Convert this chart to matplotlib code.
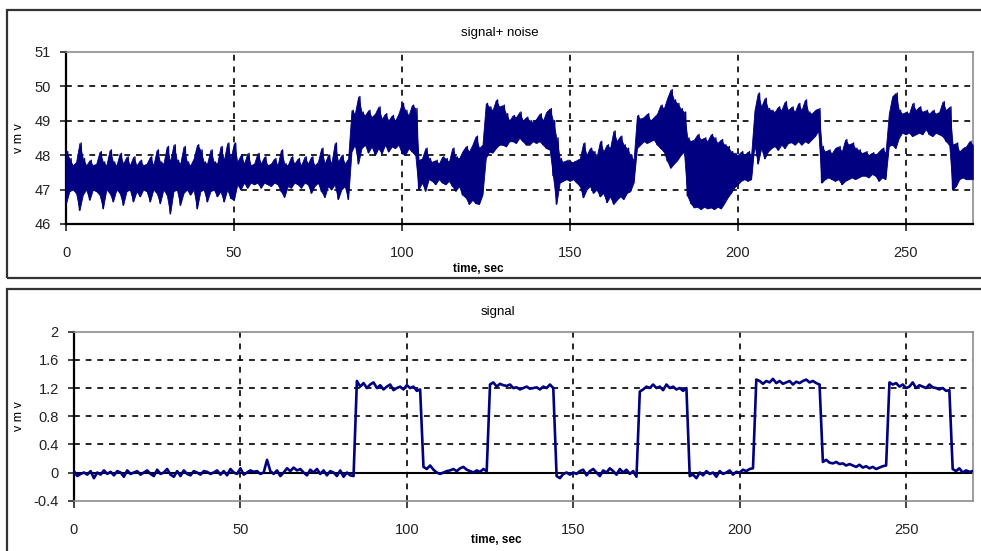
import numpy as np
import matplotlib
matplotlib.use("Agg")
import matplotlib.pyplot as plt
from matplotlib.patches import Rectangle

plt.rcParams['font.family'] = ['Liberation Sans', 'DejaVu Sans']

NAVY = "#000080"

# time axis, one reading per second
time_sec = np.arange(0, 271)

# signal + noise, upper edge of the noise band (one value per second)
noisy_hi = [
    48.1, 47.9, 47.7, 47.8, 48.35, 47.9, 47.7, 47.85, 47.7, 47.75,
    48.1, 47.8, 47.7, 48.15, 47.8, 47.7, 48.05, 47.75, 47.95, 47.7,
    47.95, 47.7, 47.85, 47.7, 47.75, 47.95, 47.7, 48.15, 47.8, 47.75,
    48.25, 47.8, 48.3, 47.85, 47.75, 48.25, 47.8, 47.7, 47.9, 48.3,
    48.15, 47.8, 47.75, 48.15, 47.8, 47.75, 48.25, 47.85, 48.35, 47.9,
    48.35, 47.8, 48.0, 47.75, 48.05, 47.7, 47.75, 48.05, 47.75, 47.95,
    47.7, 47.75, 47.9, 47.7, 48.15, 47.75, 47.7, 47.95, 47.75, 47.9,
    47.7, 47.95, 47.75, 47.95, 47.7, 47.8, 48.2, 47.75, 48.0, 47.75,
    48.35, 47.8, 48.0, 47.75, 47.9, 49.3, 49.2, 49.7, 49.25, 49.15,
    49.3, 49.1, 49.2, 49.4, 49.05, 49.2, 49.0, 49.15, 49.0, 49.2,
    49.5, 49.3, 49.15, 49.45, 49.35, 47.85, 47.9, 48.2, 47.9, 47.8,
    47.85, 47.75, 47.95, 47.9, 47.8, 48.2, 47.95, 47.9, 48.1, 48.25,
    48.1, 48.3, 48.55, 48.2, 48.3, 49.5, 49.4, 49.3, 49.6, 49.4,
    49.45, 49.2, 49.0, 49.15, 49.1, 49.25, 49.0, 49.1, 49.0, 48.95,
    49.05, 49.2, 49.0, 49.25, 49.35, 49.0, 48.5, 47.9, 47.8, 47.85,
    47.8, 47.8, 47.85, 47.9, 48.35, 48.0, 48.2, 48.1, 47.95, 48.4,
    48.1, 48.3, 48.2, 48.7, 48.4, 48.55, 48.3, 48.2, 48.0, 47.85,
    49.15, 49.05, 49.1, 49.2, 49.0, 49.1, 49.2, 49.45, 49.35, 49.65,
    49.9, 49.6, 49.5, 49.35, 49.25, 48.5, 48.4, 48.45, 48.6, 48.45,
    48.5, 48.4, 48.6, 48.5, 48.35, 48.45, 48.3, 48.25, 48.1, 48.05,
    48.0, 48.1, 48.0, 48.1, 48.0, 49.3, 49.8, 49.4, 49.65, 49.35,
    49.3, 49.25, 49.4, 49.3, 49.55, 49.3, 49.4, 49.25, 49.5, 49.3,
    49.6, 49.25, 49.2, 49.3, 49.35, 48.25, 48.1, 48.15, 48.05, 48.2,
    48.25, 48.1, 48.45, 48.3, 48.35, 48.2, 48.15, 48.05, 48.1, 48.0,
    48.07, 48.0, 48.1, 48.2, 48.05, 49.2, 49.7, 49.8, 49.3, 49.2,
    49.25, 49.2, 49.5, 49.3, 49.4, 49.25, 49.3, 49.2, 49.3, 49.2,
    49.25, 49.55, 49.3, 49.4, 48.3, 48.35, 48.1, 48.2, 48.25, 48.4,
    48.3,
]

# signal + noise, lower edge of the noise band
noisy_lo = [
    46.6, 46.95, 47.0, 46.9, 46.4, 46.85, 47.0, 46.7, 47.0, 46.95,
    46.85, 46.45, 47.0, 46.9, 46.65, 47.0, 46.9, 46.55, 46.95, 47.0,
    46.65, 46.95, 46.8, 47.0, 46.95, 46.65, 47.0, 46.9, 46.6, 47.0,
    46.85, 46.3, 46.95, 47.0, 46.55, 46.9, 47.0, 46.85, 47.0, 46.45,
    46.95, 47.0, 46.65, 46.95, 47.0, 46.8, 46.95, 46.65, 47.0, 46.75,
    46.7, 47.15, 47.0, 47.2, 47.05, 47.2, 47.15, 47.2, 47.05, 47.2,
    47.15, 47.1, 47.2, 47.15, 46.95, 46.78, 47.1, 47.05, 47.2, 47.15,
    47.05, 47.2, 47.15, 46.9, 47.1, 47.2, 46.95, 46.78, 47.1, 47.0,
    47.15, 46.72, 47.0, 47.1, 46.72, 48.1, 48.3, 47.75, 48.2, 48.3,
    48.07, 48.25, 48.0, 48.2, 48.05, 48.3, 48.1, 48.25, 48.2, 48.3,
    48.05, 48.0, 48.2, 48.1, 48.0, 47.0, 47.2, 46.96, 47.3, 47.25,
    47.15, 47.3, 47.2, 47.15, 47.25, 47.1, 46.96, 47.1, 46.85, 46.77,
    46.58, 46.7, 46.6, 46.58, 46.85, 47.92, 48.1, 48.07, 48.2, 48.3,
    48.3, 48.25, 48.4, 48.4, 48.35, 48.5, 48.4, 48.3, 48.3, 48.4,
    48.35, 48.4, 48.3, 48.2, 48.16, 47.4, 46.58, 47.2, 47.25, 47.3,
    47.25, 47.3, 47.2, 47.1, 46.77, 47.0, 47.1, 46.9, 47.0, 46.8,
    46.9, 46.63, 46.8, 46.58, 46.7, 46.8, 46.72, 46.9, 46.95, 47.2,
    48.2, 48.3, 48.4, 48.35, 48.4, 48.45, 48.3, 48.2, 48.1, 47.83,
    47.63, 47.75, 47.85, 48.0, 48.1, 46.82, 46.6, 46.48, 46.5, 46.43,
    46.5, 46.45, 46.48, 46.43, 46.5, 46.45, 46.6, 46.77, 46.9, 47.06,
    47.15, 47.25, 47.3, 47.25, 47.3, 48.3, 47.75, 48.2, 47.9, 48.1,
    48.2, 48.26, 48.15, 48.3, 48.2, 48.35, 48.37, 48.3, 48.4, 48.3,
    48.4, 48.35, 48.45, 48.55, 48.7, 47.2, 47.3, 47.35, 47.3, 47.25,
    47.3, 47.15, 47.25, 47.3, 47.35, 47.3, 47.35, 47.4, 47.4, 47.35,
    47.45, 47.4, 47.25, 47.35, 47.3, 48.26, 48.3, 48.2, 48.5, 48.65,
    48.6, 48.65, 48.55, 48.6, 48.65, 48.6, 48.75, 48.6, 48.55, 48.65,
    48.6, 48.55, 48.4, 48.3, 47.0, 47.1, 47.3, 47.35, 47.3, 47.3,
    47.3,
]

# clean signal, one value per second
signal = [
    0.02, -0.05, -0.02, 0.0, -0.03, 0.02, -0.08, 0.0, -0.03, 0.03,
    -0.02, 0.01, -0.04, 0.02, 0.0, -0.06, 0.03, -0.02, 0.0, 0.02,
    -0.03, 0.0, 0.03, -0.02, -0.05, 0.04, -0.02, 0.0, 0.05, -0.03,
    -0.06, 0.02, -0.05, 0.03, -0.02, -0.04, 0.02, 0.0, -0.03, 0.02,
    0.01, -0.02, 0.0, 0.03, -0.03, 0.02, -0.04, 0.05, 0.0, -0.02,
    0.06, -0.03, 0.0, 0.03, 0.01, 0.02, -0.02, 0.0, 0.18, 0.02,
    -0.02, 0.03, -0.05, 0.0, 0.06, 0.02, 0.07, 0.03, 0.05, 0.0,
    -0.04, 0.04, 0.0, 0.05, -0.02, 0.03, -0.04, 0.02, 0.0, -0.05,
    0.03, -0.06, 0.0, -0.04, -0.05,
    1.3, 1.22, 1.27, 1.2, 1.25, 1.28, 1.2, 1.24, 1.18, 1.22,
    1.25, 1.17, 1.2, 1.22, 1.18, 1.24, 1.2, 1.22, 1.16, 1.18,
    0.08, 0.05, 0.1, 0.04, 0.0, -0.02, 0.0, 0.02, 0.03, 0.05,
    0.02, 0.06, 0.08, 0.04, 0.02, 0.0, 0.03, 0.01, 0.05, 0.02,
    1.25, 1.28, 1.22, 1.26, 1.24, 1.23, 1.25, 1.2, 1.21, 1.18,
    1.2, 1.22, 1.19, 1.2, 1.21, 1.18, 1.22, 1.2, 1.25, 1.2,
    -0.05, -0.08, -0.02, 0.0, -0.03, 0.0, -0.02, 0.02, 0.04, -0.04,
    0.02, 0.05, 0.0, -0.05, 0.03, 0.0, 0.06, 0.02, -0.03, 0.05,
    0.0, 0.04, -0.02, 0.02, -0.06,
    1.15, 1.18, 1.22, 1.2, 1.25, 1.2, 1.22, 1.17, 1.25, 1.2,
    1.22, 1.18, 1.2, 1.16, 1.2,
    -0.05, -0.03, -0.08, 0.0, -0.04, 0.02, -0.02, 0.0, -0.06, 0.02,
    -0.02, 0.0, 0.03, -0.03, 0.01, 0.0, 0.04, 0.02, 0.05, 0.06,
    1.32, 1.3, 1.26, 1.3, 1.28, 1.33, 1.27, 1.3, 1.26, 1.28,
    1.3, 1.25, 1.29, 1.27, 1.3, 1.32, 1.28, 1.3, 1.27, 1.25,
    0.15, 0.18, 0.14, 0.13, 0.15, 0.12, 0.13, 0.1, 0.12, 0.1,
    0.08, 0.11, 0.07, 0.09, 0.06, 0.08, 0.05, 0.07, 0.09, 0.1,
    1.28, 1.25, 1.27, 1.22, 1.25, 1.2, 1.22, 1.28, 1.2, 1.24,
    1.22, 1.2, 1.25, 1.21, 1.2, 1.18, 1.2, 1.16, 1.17,
    0.05, 0.02, 0.06, 0.0, 0.03, 0.01, 0.02,
]

x_ticks = [0, 50, 100, 150, 200, 250]
top_yticks = [46, 47, 48, 49, 50, 51]
bot_yticks = [-0.4, 0, 0.4, 0.8, 1.2, 1.6, 2]
bot_ylabels = ["-0.4", "0", "0.4", "0.8", "1.2", "1.6", "2"]


def style_axes(ax, xticks, yticks, ylabels=None):
    ax.set_xlim(0, 270)
    ax.set_ylim(yticks[0], yticks[-1])
    ax.set_xticks(xticks)
    ax.set_yticks(yticks)
    if ylabels is not None:
        ax.set_yticklabels(ylabels)
    # dashed grid, skipping the frame edges
    for v in yticks[1:-1]:
        ax.axhline(v, color="black", lw=1.2, ls=(0, (3.5, 3.5)), zorder=1)
    for v in xticks[1:]:
        ax.axvline(v, color="black", lw=1.2, ls=(0, (3.5, 3.5)), zorder=1)
    ax.tick_params(axis="y", direction="out", length=4, width=1.2, pad=7,
                   labelsize=10.5, colors="#222222")
    ax.tick_params(axis="x", direction="out", length=5, width=1.2, pad=11,
                   labelsize=10.5, colors="#222222")
    ax.spines["left"].set_color("black")
    ax.spines["left"].set_linewidth(1.6)
    for s in ["top", "right"]:
        ax.spines[s].set_color("#8c8c8c")
        ax.spines[s].set_linewidth(1.2)


def band_xy(lo, hi):
    # alternate lower/upper edge readings so the line runs through the noise band
    xs = np.empty(2 * len(time_sec))
    ys = np.empty(2 * len(time_sec))
    xs[0::2] = time_sec
    xs[1::2] = time_sec + 0.5
    ys[0::2] = lo
    ys[1::2] = hi
    return xs, ys


fig = plt.figure(figsize=(9.81, 5.51), dpi=100)

# outer chart frames
fig.patches.append(Rectangle((0.0071, 0.4955), 1.2, 0.4864, transform=fig.transFigure,
                             fill=False, ec="#333333", lw=1.6))
fig.patches.append(Rectangle((0.0071, -0.06), 1.2, 0.5355, transform=fig.transFigure,
                             fill=False, ec="#333333", lw=1.6))

# top panel: signal + noise
ax1 = fig.add_axes([0.0673, 0.5935, 0.9243, 0.3127])
style_axes(ax1, x_ticks, top_yticks)
ax1.spines["bottom"].set_color("black")
ax1.spines["bottom"].set_linewidth(1.6)
ax1.fill_between(time_sec, noisy_lo, noisy_hi, color=NAVY, lw=0.6, zorder=3)
bx, by = band_xy(noisy_lo, noisy_hi)
ax1.plot(bx, by, color=NAVY, lw=1.0, zorder=3)
ax1.set_ylabel("v m v", fontsize=9)
ax1.yaxis.set_label_coords(-0.045, 0.5)
ax1.set_xlabel("time, sec", fontsize=8.5, fontweight="bold")
ax1.xaxis.set_label_coords(0.455, -0.225)
fig.text(0.509, 0.94, "signal+ noise", ha="center", va="center", fontsize=9.5)

# bottom panel: signal
ax2 = fig.add_axes([0.0754, 0.0913, 0.9161, 0.3067])
style_axes(ax2, x_ticks, bot_yticks, bot_ylabels)
ax2.spines["bottom"].set_color("#8c8c8c")
ax2.spines["bottom"].set_linewidth(1.2)
ax2.axhline(0, color="black", lw=1.5, zorder=2)
ax2.plot(time_sec, signal, color=NAVY, lw=1.9, zorder=3)
ax2.set_ylabel("v m v", fontsize=9)
ax2.yaxis.set_label_coords(-0.054, 0.5)
ax2.set_xlabel("time, sec", fontsize=8.5, fontweight="bold")
ax2.xaxis.set_label_coords(0.47, -0.2)
fig.text(0.508, 0.434, "signal", ha="center", va="center", fontsize=9.5)

fig.savefig("out.png", dpi=100)
